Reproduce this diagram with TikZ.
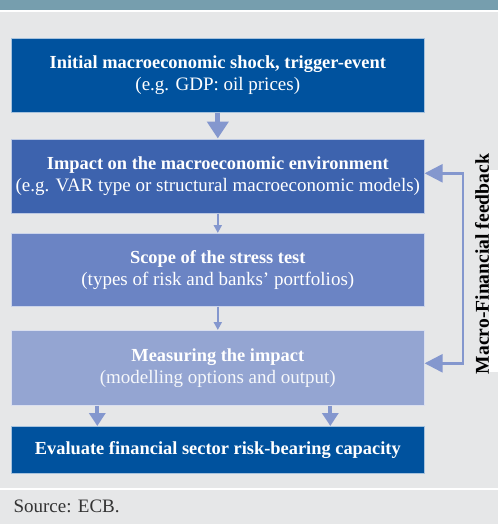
\documentclass[tikz,border=0pt]{standalone}
\usepackage{fontspec}
\setmainfont{Liberation Serif}
\usetikzlibrary{arrows.meta,calc}
\definecolor{hdr}{RGB}{118,158,174}
\definecolor{bg}{RGB}{230,231,232}
\definecolor{cA}{RGB}{0,82,158}
\definecolor{cB}{RGB}{61,99,174}
\definecolor{cC}{RGB}{107,132,196}
\definecolor{cD}{RGB}{148,165,210}
\definecolor{arr}{RGB}{132,151,206}
\newcommand{\ttl}{\bfseries\fontsize{18.4}{24}\selectfont}
\newcommand{\sub}{\mdseries\fontsize{19}{24}\selectfont}
\begin{document}
\begin{tikzpicture}[x=1pt,y=-1pt,
  box/.style={fill=#1, draw=white!65!#1, line width=0.6pt, anchor=north west,
    minimum width=413pt, text=white, align=center, inner sep=0pt},
  bigarrow/.style={draw=arr, line width=5pt, -{Triangle[width=21pt,length=17pt,fill=arr]}, shorten >=0.5pt},
  smallarrow/.style={draw=arr, line width=2pt, -{Triangle[width=8pt,length=8pt,fill=arr]}},
  midarrow/.style={draw=arr, line width=4pt, -{Triangle[width=16pt,length=13pt,fill=arr]}},
  fbarrow/.style={draw=arr, line width=2.5pt, {Triangle[width=18pt,length=18pt,fill=arr]}-{Triangle[width=18pt,length=18pt,fill=arr]}}]
\useasboundingbox (0,0) rectangle (498,524);
\fill[bg] (0,0) rectangle (498,524);
\fill[hdr] (0,0) rectangle (498,10);
\fill[white] (0,10) rectangle (498,12);
\fill[white] (0,488) rectangle (498,490);
\fill[white] (489,170) rectangle (498,372);

\node[box=cA, minimum height=74pt] (b1) at (11,38)
  {\ttl Initial macroeconomic shock, trigger-event\\[4pt] \sub (e.g. GDP: oil prices)};
\node[box=cB, minimum height=74pt] (b2) at (11,139)
  {\ttl Impact on the macroeconomic environment\\[4pt] \sub (e.g. VAR type or structural macroeconomic models)};
\node[box=cC, minimum height=73pt] (b3) at (11,233)
  {\ttl Scope of the stress test\\[4pt] \sub (types of risk and banks’ portfolios)};
\node[box=cD, minimum height=75pt] (b4) at (11,330)
  {\ttl Measuring the impact\\[4pt] \sub\color{white!92!cD} (modelling options and output)};
\node[box=cA, minimum height=47pt] (b5) at (11,426)
  {\ttl Evaluate financial sector risk-bearing capacity};

\draw[bigarrow] (b1.south) -- (b2.north);
\draw[smallarrow] (b2.south) -- (b3.north);
\draw[smallarrow] (b3.south) -- (b4.north);
\draw[midarrow] ([xshift=-120.5pt]b4.south) -- ([xshift=-120.5pt]b5.north);
\draw[midarrow] ([xshift=112.5pt]b4.south) -- ([xshift=112.5pt]b5.north);

\coordinate (fb) at (463,0);
\coordinate (t2) at ([yshift=3pt]b2.east);
\coordinate (t4) at ([yshift=4.5pt]b4.east);
\draw[fbarrow] (t4) -| (fb |- t2) -- (t2);

\node[rotate=90, font=\bfseries\fontsize{19.6}{24}\selectfont] (lbl) at (482,264) {Macro-Financial feedback};

\node[anchor=base west, text=black!80, font=\sub] (src) at (10,512) {Source: ECB.};
\end{tikzpicture}
\end{document}
